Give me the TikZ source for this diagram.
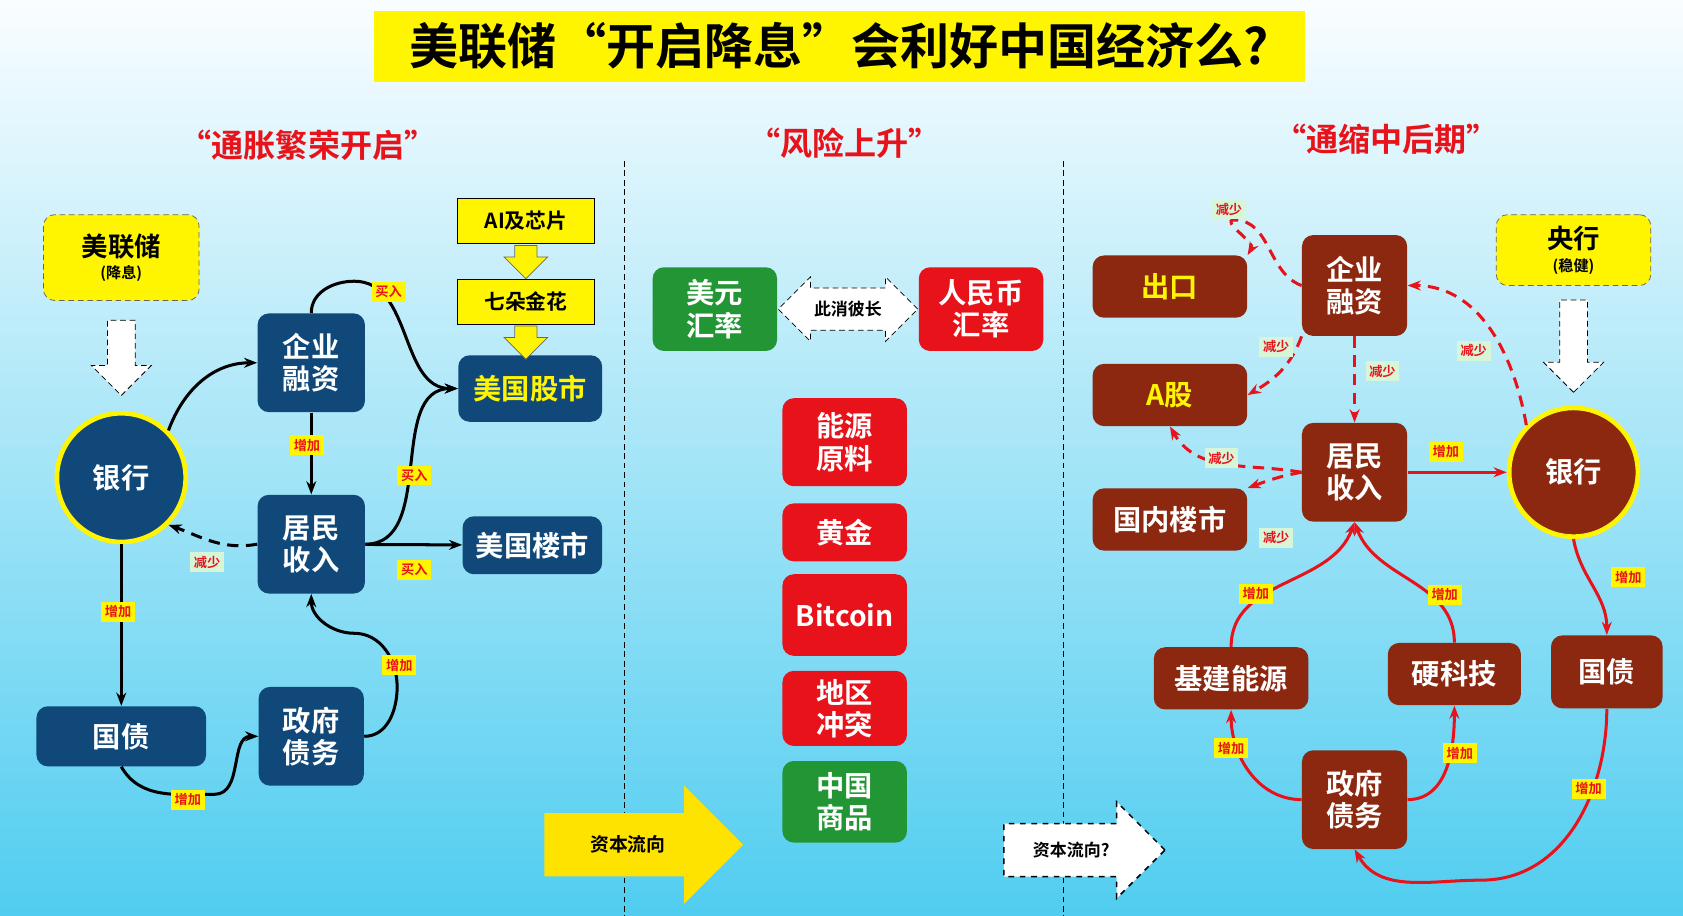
\documentclass[tikz,border=0pt]{standalone}
\usepackage{fontspec}
\setmainfont{Noto Sans CJK SC}[BoldFont={Noto Sans CJK SC Bold}]
\usetikzlibrary{shapes.arrows,arrows.meta}
\definecolor{navy}{RGB}{16,72,122}
\definecolor{brn}{RGB}{140,40,16}
\definecolor{rd}{RGB}{232,18,26}
\definecolor{grn}{RGB}{34,150,52}
\definecolor{ylw}{RGB}{255,245,0}
\definecolor{bgtop}{RGB}{250,253,255}
\definecolor{bgbot}{RGB}{80,205,240}
\definecolor{pale}{RGB}{215,245,215}
\tikzset{
  box/.style={rounded corners=6pt,align=center,font=\fontsize{15}{17}\selectfont\bfseries,text=white,inner sep=2pt},
  bluebox/.style={box,fill=navy},
  brownbox/.style={box,fill=brn},
  redbox/.style={box,fill=rd},
  greenbox/.style={box,fill=grn},
  yellowbox/.style={box,fill=ylw,text=black,draw=black!60,densely dashed,font=\fontsize{14}{15}\selectfont\bfseries},
  lbl/.style={fill=ylw,text=rd,font=\fontsize{7}{8}\selectfont\bfseries,inner sep=2pt},
  cutlbl/.style={fill=pale,text=rd,font=\fontsize{7}{8}\selectfont\bfseries,inner sep=2pt},
  head/.style={text=rd,font=\fontsize{17}{19}\selectfont\bfseries},
  blk/.style={-{Stealth[length=7pt]},line width=1.6pt,black},
  red/.style={-{Stealth[length=7pt]},line width=1.6pt,rd},
  reddash/.style={red,dash pattern=on 6pt off 4pt},
  downarrow/.style={single arrow,draw=black,densely dashed,fill=white,shape border rotate=270,minimum width=11.2mm,single arrow head extend=3mm,inner sep=2.5mm},
  smallarrow/.style={single arrow,fill=ylw,draw=black!60,shape border rotate=270,minimum width=8mm,minimum height=4mm,single arrow head extend=2mm,inner sep=2mm}
}
\begin{document}
\begin{tikzpicture}[x=0.2mm,y=-0.2mm]
\useasboundingbox (0,0) rectangle (1568,853);
\shade[top color=bgtop,bottom color=bgbot] (0,0) rectangle (1568,853);
% title
\node[fill=ylw,minimum width=868*0.2mm,minimum height=66*0.2mm,font=\fontsize{26}{28}\selectfont\bfseries] (title) at (782,43) {美联储“开启降息”会利好中国经济么?};
\node[head] (h1) at (287,135) {“通胀繁荣开启”};
\node[head] (h2) at (787,133) {“风险上升”};
\node[head] (h3) at (1292,130) {“通缩中后期”};
\draw[densely dashed,thick] (582,150) -- (582,853);
\draw[densely dashed,thick] (991,150) -- (991,853);

% left part
\node[yellowbox,minimum width=145*0.2mm,minimum height=80*0.2mm] (fed) at (113,240) {美联储\\[-3pt]{\fontsize{8}{9}\selectfont (降息)}};
\node[downarrow,minimum height=70*0.2mm] (fedarr) at (113,327) {};
\node[circle,fill=navy,draw=ylw,line width=2.5pt,minimum size=120*0.2mm,text=white,font=\fontsize{15}{17}\selectfont\bfseries] (bank) at (113,445) {银行};
\node[bluebox,minimum width=100*0.2mm,minimum height=92*0.2mm] (firm) at (290,338) {企业\\融资};
\node[bluebox,minimum width=100*0.2mm,minimum height=92*0.2mm] (house) at (290,507) {居民\\收入};
\node[bluebox,minimum width=98*0.2mm,minimum height=92*0.2mm] (gov) at (290,686) {政府\\债务};
\node[bluebox,minimum width=158*0.2mm,minimum height=56*0.2mm] (bond) at (113,686) {国债};
\node[bluebox,minimum width=134*0.2mm,minimum height=62*0.2mm,text=ylw] (stock) at (494,362) {美国股市};
\node[bluebox,minimum width=130*0.2mm,minimum height=54*0.2mm] (estate) at (496,508) {美国楼市};
\node[yellowbox,draw=black,solid,rounded corners=0pt,minimum width=128*0.2mm,minimum height=42*0.2mm,font=\fontsize{11}{12}\selectfont\bfseries] (ai) at (490,206) {AI及芯片};
\node[yellowbox,draw=black,solid,rounded corners=0pt,minimum width=128*0.2mm,minimum height=42*0.2mm,font=\fontsize{11}{12}\selectfont\bfseries] (seven) at (490,281) {七朵金花};
\node[smallarrow] (ya1) at (490,239) {};
\node[smallarrow] (ya2) at (490,314) {};

\draw[blk] (bank.north east) to[out=70,in=180] (firm.west);
\draw[blk] (firm.north) to[out=90,in=180] (330,262) to[out=0,in=180] (stock.west);
\node[lbl] (l1) at (362,272) {买入};
\draw[blk] (firm) -- (house);
\node[lbl] (l2) at (286,415) {增加};
\draw[blk] (house.east) to[out=0,in=180] (stock.west);
\node[lbl] (l3) at (386,443) {买入};
\draw[blk] (house) -- (estate);
\node[lbl] (l4) at (386,531) {买入};
\draw[blk,dash pattern=on 6pt off 4pt] (house.west) to[out=190,in=-20] (bank.south east);
\node[cutlbl] (l5) at (193,524) {减少};
\draw[blk] (bank) -- (bond);
\node[lbl] (l6) at (110,570) {增加};
\draw[blk] (bond.south) to[out=-60,in=180] (200,740) to[out=0,in=180] (gov.west);
\node[lbl] (l7) at (175,745) {增加};
\draw[blk] (gov.east) to[out=0,in=-90] (370,640) to[out=90,in=0] (330,590) to[out=180,in=-90] (house.south);
\node[lbl] (l8) at (372,620) {增加};

% middle part
\node[greenbox,minimum width=116*0.2mm,minimum height=78*0.2mm] (usd) at (666,288) {美元\\汇率};
\node[redbox,minimum width=116*0.2mm,minimum height=78*0.2mm] (rmb) at (914,288) {人民币\\汇率};
\node[double arrow,draw=black,densely dashed,fill=white,minimum width=12mm,minimum height=26mm,double arrow head extend=2mm,inner xsep=0pt,inner ysep=2.3mm,font=\fontsize{9}{10}\selectfont\bfseries] (swap) at (790,288) {此消彼长};
\node[redbox,minimum width=116*0.2mm,minimum height=82*0.2mm] (energy) at (787,412) {能源\\原料};
\node[redbox,minimum width=116*0.2mm,minimum height=54*0.2mm] (gold) at (787,496) {黄金};
\node[redbox,minimum width=116*0.2mm,minimum height=76*0.2mm] (btc) at (787,573) {Bitcoin};
\node[redbox,minimum width=116*0.2mm,minimum height=70*0.2mm] (war) at (787,660) {地区\\冲突};
\node[greenbox,minimum width=116*0.2mm,minimum height=76*0.2mm] (goods) at (787,747) {中国\\商品};
\node[single arrow,fill=ylw!85!orange,minimum width=22mm,minimum height=37mm,single arrow head extend=4.5mm,inner xsep=0pt,inner ysep=3.5mm,font=\fontsize{10}{11}\selectfont\bfseries] (flow) at (585,787) {资本流向};
\node[single arrow,draw=black,dashed,thick,fill=white,minimum width=18mm,minimum height=30mm,single arrow head extend=4mm,inner xsep=0pt,inner ysep=3.2mm,font=\fontsize{9}{10}\selectfont\bfseries] (flow2) at (998,792) {资本流向?};

% right part
\node[brownbox,minimum width=144*0.2mm,minimum height=58*0.2mm,text=ylw] (exp) at (1090,267) {出口};
\node[brownbox,minimum width=144*0.2mm,minimum height=58*0.2mm,text=ylw] (ashare) at (1090,368) {A股};
\node[brownbox,minimum width=144*0.2mm,minimum height=58*0.2mm] (home) at (1090,484) {国内楼市};
\node[brownbox,minimum width=98*0.2mm,minimum height=94*0.2mm] (rfirm) at (1262,266) {企业\\融资};
\node[brownbox,minimum width=98*0.2mm,minimum height=92*0.2mm] (rhouse) at (1262,440) {居民\\收入};
\node[circle,fill=brn,draw=ylw,line width=2.5pt,minimum size=120*0.2mm,text=white,font=\fontsize{15}{17}\selectfont\bfseries] (rbank) at (1466,440) {银行};
\node[yellowbox,minimum width=144*0.2mm,minimum height=66*0.2mm] (pboc) at (1466,233) {央行\\[-3pt]{\fontsize{8}{9}\selectfont (稳健)}};
\node[downarrow,minimum height=86*0.2mm] (pbocarr) at (1466,316) {};
\node[brownbox,minimum width=144*0.2mm,minimum height=58*0.2mm] (infra) at (1147,632) {基建能源};
\node[brownbox,minimum width=124*0.2mm,minimum height=58*0.2mm] (tech) at (1355,628) {硬科技};
\node[brownbox,minimum width=104*0.2mm,minimum height=68*0.2mm] (rbond) at (1497,626) {国债};
\node[brownbox,minimum width=98*0.2mm,minimum height=92*0.2mm] (rgov) at (1262,745) {政府\\债务};

\draw[reddash] (rfirm.west) to[out=160,in=0] (1150,205) to[out=180,in=60] (exp.north east);
\node[cutlbl] (r1) at (1145,195) {减少};
\draw[reddash] (rfirm.south west) to[out=-110,in=30] (ashare.east);
\node[cutlbl] (r2) at (1189,323) {减少};
\draw[reddash] (rfirm) -- (rhouse);
\node[cutlbl] (r3) at (1288,346) {减少};
\draw[reddash] (rbank.north west) to[out=100,in=0] (rfirm.east);
\node[cutlbl] (r4) at (1373,327) {减少};
\draw[reddash] (rhouse.west) to[out=170,in=-60] (ashare.south);
\node[cutlbl] (r5) at (1138,427) {减少};
\draw[reddash] (rhouse.west) to[out=190,in=20] (home.north east);
\node[cutlbl] (r6) at (1189,501) {减少};
\draw[red] (rhouse) -- (rbank);
\node[lbl] (r7) at (1347,421) {增加};
\draw[red] (rbank.south) to[out=-80,in=90] (rbond.north);
\node[lbl] (r8) at (1517,538) {增加};
\draw[red] (rbond.south) to[out=-90,in=0] (1380,820) to[out=180,in=-60] (rgov.south);
\node[lbl] (r9) at (1480,735) {增加};
\draw[red] (rgov.west) to[out=180,in=-90] (infra.south);
\node[lbl] (r10) at (1147,697) {增加};
\draw[red] (rgov.east) to[out=0,in=-90] (tech.south);
\node[lbl] (r11) at (1360,702) {增加};
\draw[red] (infra.north) to[out=90,in=-110] (rhouse.south);
\node[lbl] (r12) at (1170,553) {增加};
\draw[red] (tech.north) to[out=90,in=-70] (rhouse.south);
\node[lbl] (r13) at (1346,554) {增加};
\end{tikzpicture}
\end{document}
